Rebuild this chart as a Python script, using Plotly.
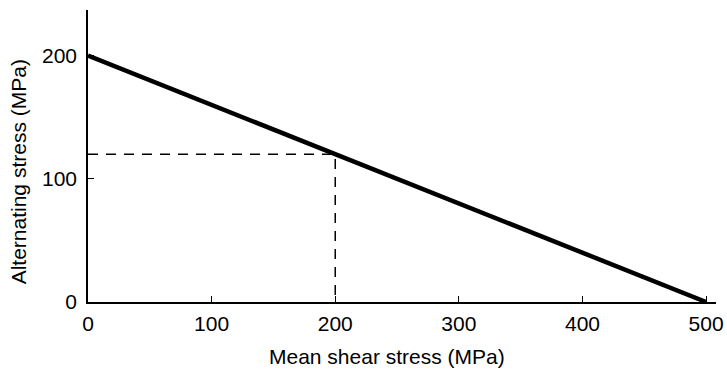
import plotly.graph_objects as go

# Goodman-type line: alternating stress vs mean shear stress
mean_stress = [0, 500]
alt_stress = [200, 0]

# operating point guide lines
guide_x = [0, 200, 200]
guide_y = [120, 120, 0]

x_ticks = [0, 100, 200, 300, 400, 500]
y_ticks = [0, 100, 200]

base_font = dict(family="Liberation Sans, Arial, sans-serif", size=21, color="black")

fig = go.Figure()

fig.add_trace(go.Scatter(
    x=guide_x, y=guide_y, mode="lines",
    line=dict(color="black", width=1.5, dash="10px,8px"),
    showlegend=False, hoverinfo="skip",
))

fig.add_trace(go.Scatter(
    x=mean_stress, y=alt_stress, mode="lines",
    line=dict(color="black", width=4.5),
    showlegend=False,
))

fig.update_layout(
    width=727, height=369,
    margin=dict(l=88, r=11, t=10, b=67),
    plot_bgcolor="white", paper_bgcolor="white",
    font=base_font,
    xaxis=dict(
        range=[0, 508], tickvals=x_ticks, showgrid=False, zeroline=False,
        showline=True, linecolor="black", linewidth=1.5,
        ticks="inside", ticklen=6, tickcolor="black", automargin=False,
        ticklabelstandoff=2, tickfont=base_font,
    ),
    yaxis=dict(
        range=[0, 237], tickvals=y_ticks, showgrid=False, zeroline=False,
        showline=True, linecolor="black", linewidth=1.5,
        ticks="inside", ticklen=6, tickcolor="black", automargin=False,
        ticklabelstandoff=5, tickfont=base_font,
    ),
    annotations=[
        dict(text="Mean shear stress (MPa)", xref="paper", yref="paper",
             x=0.476, y=-0.185, xanchor="center", yanchor="middle",
             showarrow=False, font=base_font),
        dict(text="Alternating stress (MPa)", xref="paper", yref="paper",
             x=-0.111, y=0.445, xanchor="center", yanchor="middle",
             textangle=-90, showarrow=False, font=base_font),
    ],
)

# drop the default page margin so the figure fills the window
fig.write_html("out.html", config={"displayModeBar": False},
               post_script="document.body.style.margin='0';")
